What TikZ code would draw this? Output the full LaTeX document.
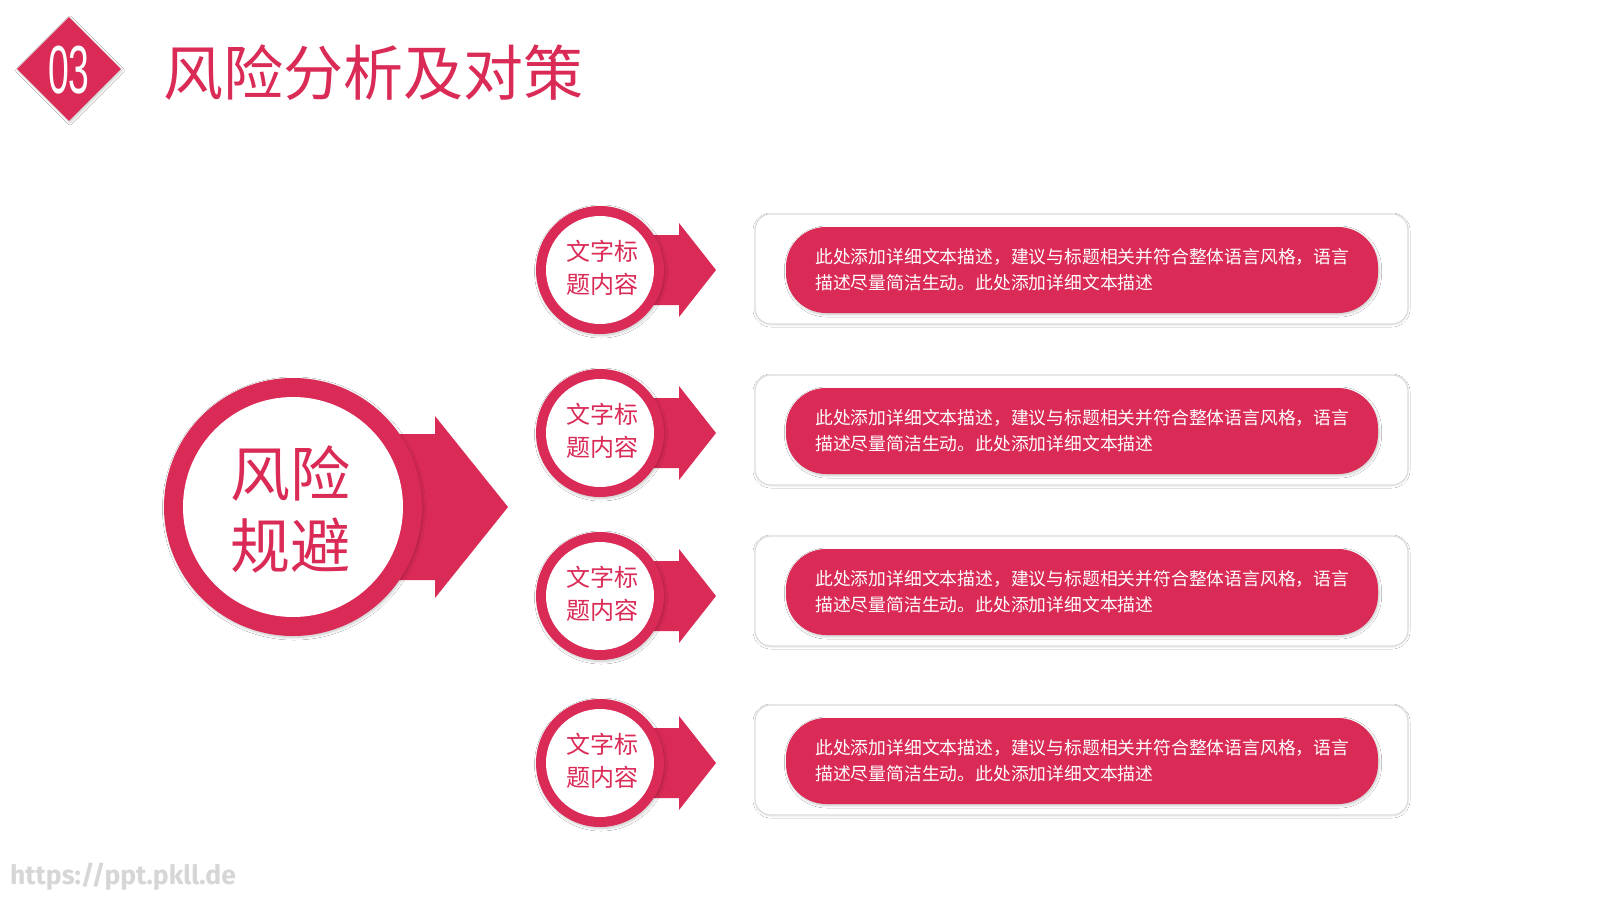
\documentclass[tikz,border=0pt]{standalone}
\usepackage{fontspec}
\setmainfont{Noto Sans CJK SC}
\newfontfamily\cjk{Noto Sans CJK SC}
\newfontfamily\digitfont{Liberation Sans}
\newfontfamily\wmfont{Fira Sans}
\usetikzlibrary{shadows.blur,shapes.geometric}
\definecolor{crim}{HTML}{DA2A56}
\definecolor{boxline}{HTML}{DCDCDC}
\tikzset{
  crimfill/.style={fill=crim,draw=none},
  softshadow/.style={blur shadow={shadow xshift=1pt,shadow yshift=-1.5pt,shadow blur radius=2.5pt,shadow blur steps=8,shadow opacity=22}},
  boxshadow/.style={blur shadow={shadow xshift=0pt,shadow yshift=-1pt,shadow blur radius=2pt,shadow blur steps=8,shadow opacity=10}},
  smalltxt/.style={text=crim,font=\cjk\fontsize{24}{33}\selectfont,align=center,inner sep=0pt},
  pilltxt/.style={text=white,font=\cjk\fontsize{17.8}{26}\selectfont,align=left,anchor=west,inner sep=0pt},
  outerbox/.style={draw=boxline,line width=1.2pt,fill=white,rounded corners=16pt,boxshadow},
  pillbox/.style={fill=crim,draw=none,rounded corners=40pt,softshadow}
}
\begin{document}
\begin{tikzpicture}[x=1pt,y=-1pt]
\useasboundingbox[fill=white] (0,0) rectangle (1600,900);
% header
\node[crimfill,diamond,minimum width=104pt,minimum height=104pt,inner sep=0pt,softshadow] (dia) at (69,69) {};
\node[text=white,font=\digitfont\fontsize{68}{68}\selectfont,xscale=0.55,inner sep=0pt] (num) at (69,70) {03};
\node[text=crim,font=\cjk\fontsize{60}{60}\selectfont,anchor=west,inner sep=0pt] (title) at (163,73) {风险分析及对策};
% big circle with arrow
\coordinate (bc) at (293,507);
\fill[crim] (293,434) -- (435,434) -- (435,416) -- (508,507) -- (435,598) -- (435,580) -- (293,580) -- cycle;
\node[circle,fill=crim,minimum size=258pt,inner sep=0pt,softshadow] (bigout) at (bc) {};
\node[circle,fill=white,minimum size=220pt,inner sep=0pt] (bigin) at (bc) {};
\node[text=crim,font=\cjk\fontsize{60}{72}\selectfont,align=center,inner sep=0pt] (bigtxt) at (290,509) {风险\\规避};
% rows
\foreach \i/\cy/\by in {1/270/269, 2/433/430, 3/596/591, 4/763/760}{
  \fill[crim] (600,\cy-35) -- (679,\cy-35) -- (679,\cy-47) -- (716,\cy) -- (679,\cy+47) -- (679,\cy+35) -- (600,\cy+35) -- cycle;
  \node[circle,fill=crim,minimum size=128pt,inner sep=0pt,softshadow] (co\i) at (600,\cy) {};
  \node[circle,fill=white,minimum size=108pt,inner sep=0pt] (ci\i) at (600,\cy) {};
  \node[smalltxt] (ct\i) at (602,\cy-2) {文字标\\题内容};
  \node[outerbox,minimum width=653pt,minimum height=110pt,inner sep=0pt] (box\i) at (1081.5,\by) {};
  \node[pillbox,minimum width=592pt,minimum height=86pt,inner sep=0pt] (pill\i) at (1082,\by+1) {};
  \node[pilltxt] (pt\i) at (815,\by+1) {此处添加详细文本描述，建议与标题相关并符合整体语言风格，语言\\描述尽量简洁生动。此处添加详细文本描述};
}
% watermark
\node[text=black!16,font=\wmfont\bfseries\fontsize{26.5}{26.5}\selectfont,anchor=west,inner sep=0pt] (wm) at (10,877) {https://ppt.pkll.de};
\end{tikzpicture}
\end{document}
